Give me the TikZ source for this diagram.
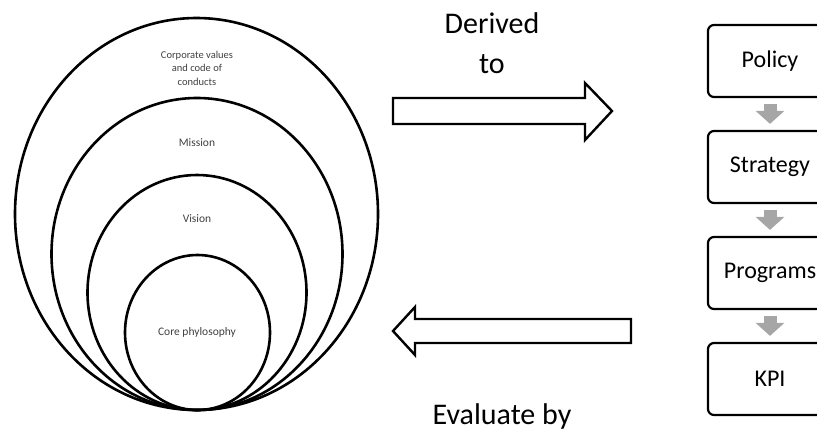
\documentclass[tikz,border=0pt]{standalone}
\usepackage{fontspec}
\setmainfont{Carlito}
\usepackage{tikz}
\usetikzlibrary{arrows.meta}
\newcommand{\ring}[4]{\draw[ring] ( #1 , #2 ) ellipse ( #3 pt and #4 pt );}

\begin{document}
\begin{tikzpicture}[x=1pt, y=-1pt,
    ring/.style={line width=2.6pt},
    ringtext/.style={text=black!75, align=center, font=\fontsize{11.5}{13.5}\selectfont},
    bigtext/.style={font=\fontsize{30}{36}\selectfont},
    stagebox/.style={draw, line width=2.2pt, rounded corners=6pt, minimum width=124pt,
        minimum height=72pt, font=\fontsize{24}{28}\selectfont},
    fatarrow/.style={draw, fill=white, line width=2.4pt, line join=miter},
    flowarrow/.style={draw=black!35, line width=13pt, shorten <=6pt, shorten >=6pt,
        -{Triangle[width=28pt, length=13pt]}, black!35}]
    \useasboundingbox (0,0) rectangle (817,432);
    \clip (0,0) rectangle (817,432);
    % nested ellipses, all touching at the bottom
    \ring{196.5}{214}{181.5}{196}
    \ring{197}{254}{145.5}{156}
    \ring{197}{292.5}{109.5}{117.5}
    \ring{197.5}{332.5}{72.5}{77.5}
    \node[ringtext, font=\fontsize{10.5}{13.5}\selectfont] (values) at (197,68)
        {Corporate values\\and code of\\conducts};
    \node[ringtext] (mission) at (197,143) {Mission};
    \node[ringtext] (vision) at (197,219) {Vision};
    \node[ringtext] (core) at (197,332) {Core phylosophy};
    % arrow to the right
    \node[bigtext, anchor=base] (derived) at (492,33) {Derived};
    \node[bigtext, anchor=base] (derivedto) at (492,73) {to};
    \draw[fatarrow] (393,98) -- (585,98) -- (585,83) -- (612,111) -- (585,140)
        -- (585,124) -- (393,124) -- cycle;
    % arrow back to the left
    \draw[fatarrow] (631,319) -- (415,319) -- (415,307) -- (393,331) -- (415,355)
        -- (415,343) -- (631,343) -- cycle;
    \node[bigtext, anchor=base] (evaluate) at (502,424) {Evaluate by};
    % stages
    \node[stagebox] (policy) at (770,61) {Policy};
    \node[stagebox] (strategy) at (770,167) {Strategy};
    \node[stagebox] (programs) at (770,273) {Programs};
    \node[stagebox] (kpi) at (770,379) {KPI};
    \draw[flowarrow] (policy.south) -- (strategy.north);
    \draw[flowarrow] (strategy.south) -- (programs.north);
    \draw[flowarrow] (programs.south) -- (kpi.north);
\end{tikzpicture}
\end{document}
